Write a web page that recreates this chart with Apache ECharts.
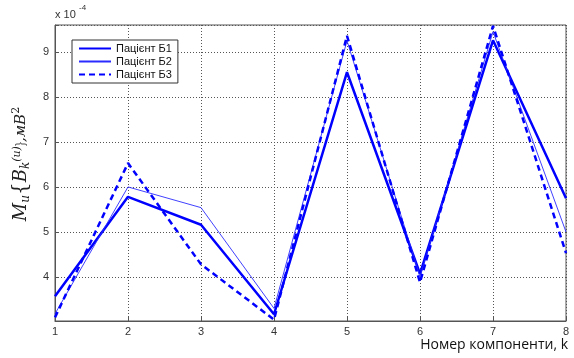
<!DOCTYPE html>
<html>
<head>
<meta charset="utf-8">
<script src="https://cdn.jsdelivr.net/npm/echarts@6/dist/echarts.min.js"></script>
<style>
	html, body { margin: 0; padding: 0; background: #fff; }
	#chart { width: 574px; height: 358px; }
</style>
</head>
<body>
<div id="chart"></div>
<script>
// номери компонент
var components = [1, 2, 3, 4, 5, 6, 7, 8];

// значення, x 10^-4
var patientB1 = [3.57, 5.78, 5.16, 3.17, 8.55, 4.07, 9.26, 5.75];
var patientB2 = [3.18, 6.00, 5.54, 3.30, 9.25, 4.00, 9.45, 5.00];
var patientB3 = [3.10, 6.53, 4.28, 3.05, 9.36, 3.88, 9.58, 4.53];

var seriesNames = ['Пацієнт Б1', 'Пацієнт Б2', 'Пацієнт Б3'];

function pairs(values) {
	return values.map(function (v, i) { return [components[i], v]; });
}

var myChart = echarts.init(document.getElementById('chart'));

var gridLine = { show: true, lineStyle: { color: '#555', type: [1, 2], width: 1 } };

myChart.setOption({
	animation: false,
	grid: { left: 55, right: 8, top: 25, bottom: 37, show: true, borderColor: '#555', borderWidth: 1 },
	legend: {
		orient: 'vertical',
		left: 72,
		top: 40,
		backgroundColor: '#fff',
		borderColor: '#333',
		borderWidth: 1,
		borderRadius: 0,
		padding: [3, 6, 3, 6],
		itemGap: 2,
		itemWidth: 32,
		itemHeight: 10,
		itemStyle: { color: 'rgba(0,0,0,0)', borderWidth: 0 },
		textStyle: { fontFamily: 'Arial, Liberation Sans', fontSize: 11, color: '#111' },
		data: seriesNames
	},
	xAxis: {
		type: 'value',
		min: 1,
		max: 8,
		interval: 1,
		axisLine: { show: true, lineStyle: { color: '#555' } },
		axisTick: { show: true, inside: true, length: 4, lineStyle: { color: '#555' } },
		axisLabel: { fontFamily: 'Arial, Liberation Sans', fontSize: 11, color: '#333', margin: 5 },
		splitLine: gridLine
	},
	yAxis: {
		type: 'value',
		min: 3.02,
		max: 9.6,
		axisLine: { show: true, lineStyle: { color: '#555' } },
		axisTick: { show: true, inside: true, length: 4, lineStyle: { color: '#555' } },
		axisLabel: {
			fontFamily: 'Arial, Liberation Sans', fontSize: 11, color: '#333', margin: 6,
			formatter: function (v) { return Math.abs(v - Math.round(v)) < 1e-6 ? String(v) : ''; }
		},
		splitLine: gridLine,
		name: '{m|M}{s|u}{b|{}{m|B}{s|k}{p|(u)}{b|}}{t|,мВ}{q|2}',
		nameLocation: 'middle',
		nameGap: 19,
		nameTextStyle: {
			padding: [0, 0, 0, 18],
			rich: {
				m: { fontFamily: 'DejaVu Serif, serif', fontStyle: 'italic', fontSize: 18, color: '#222' },
				s: { fontFamily: 'DejaVu Serif, serif', fontStyle: 'italic', fontSize: 12, color: '#222', padding: [10, 0, 0, 0] },
				p: { fontFamily: 'DejaVu Serif, serif', fontStyle: 'italic', fontSize: 11, color: '#222', padding: [0, 0, 8, 0] },
				b: { fontFamily: 'DejaVu Serif, serif', fontSize: 20, color: '#222' },
				t: { fontFamily: 'DejaVu Serif, serif', fontStyle: 'italic', fontSize: 15, color: '#222' },
				q: { fontFamily: 'DejaVu Serif, serif', fontSize: 11, color: '#222', padding: [0, 0, 10, 0] }
			}
		}
	},
	graphic: [
		{
			type: 'text', left: 55, top: 9,
			style: { text: 'x 10', font: '11px Arial, Liberation Sans', fill: '#333' }
		},
		{
			type: 'text', left: 79, top: 4,
			style: { text: '-4', font: '8px Arial, Liberation Sans', fill: '#333' }
		},
		{
			type: 'text', right: 6, top: 338,
			style: { text: 'Номер компоненти, k', font: '14px Open Sans, Noto Sans, sans-serif', fill: '#111' }
		}
	],
	series: [
		{
			name: seriesNames[0], type: 'line', symbol: 'none',
			lineStyle: { color: '#0000ff', width: 2.5 },
			itemStyle: { color: '#0000ff' },
			data: pairs(patientB1)
		},
		{
			name: seriesNames[1], type: 'line', symbol: 'none',
			lineStyle: { color: '#2b2bff', width: 0.9 },
			itemStyle: { color: '#2b2bff' },
			data: pairs(patientB2)
		},
		{
			name: seriesNames[2], type: 'line', symbol: 'none',
			lineStyle: { color: '#0000ff', width: 2.5, type: [6, 4] },
			itemStyle: { color: '#0000ff' },
			data: pairs(patientB3)
		}
	]
});
</script>
</body>
</html>
